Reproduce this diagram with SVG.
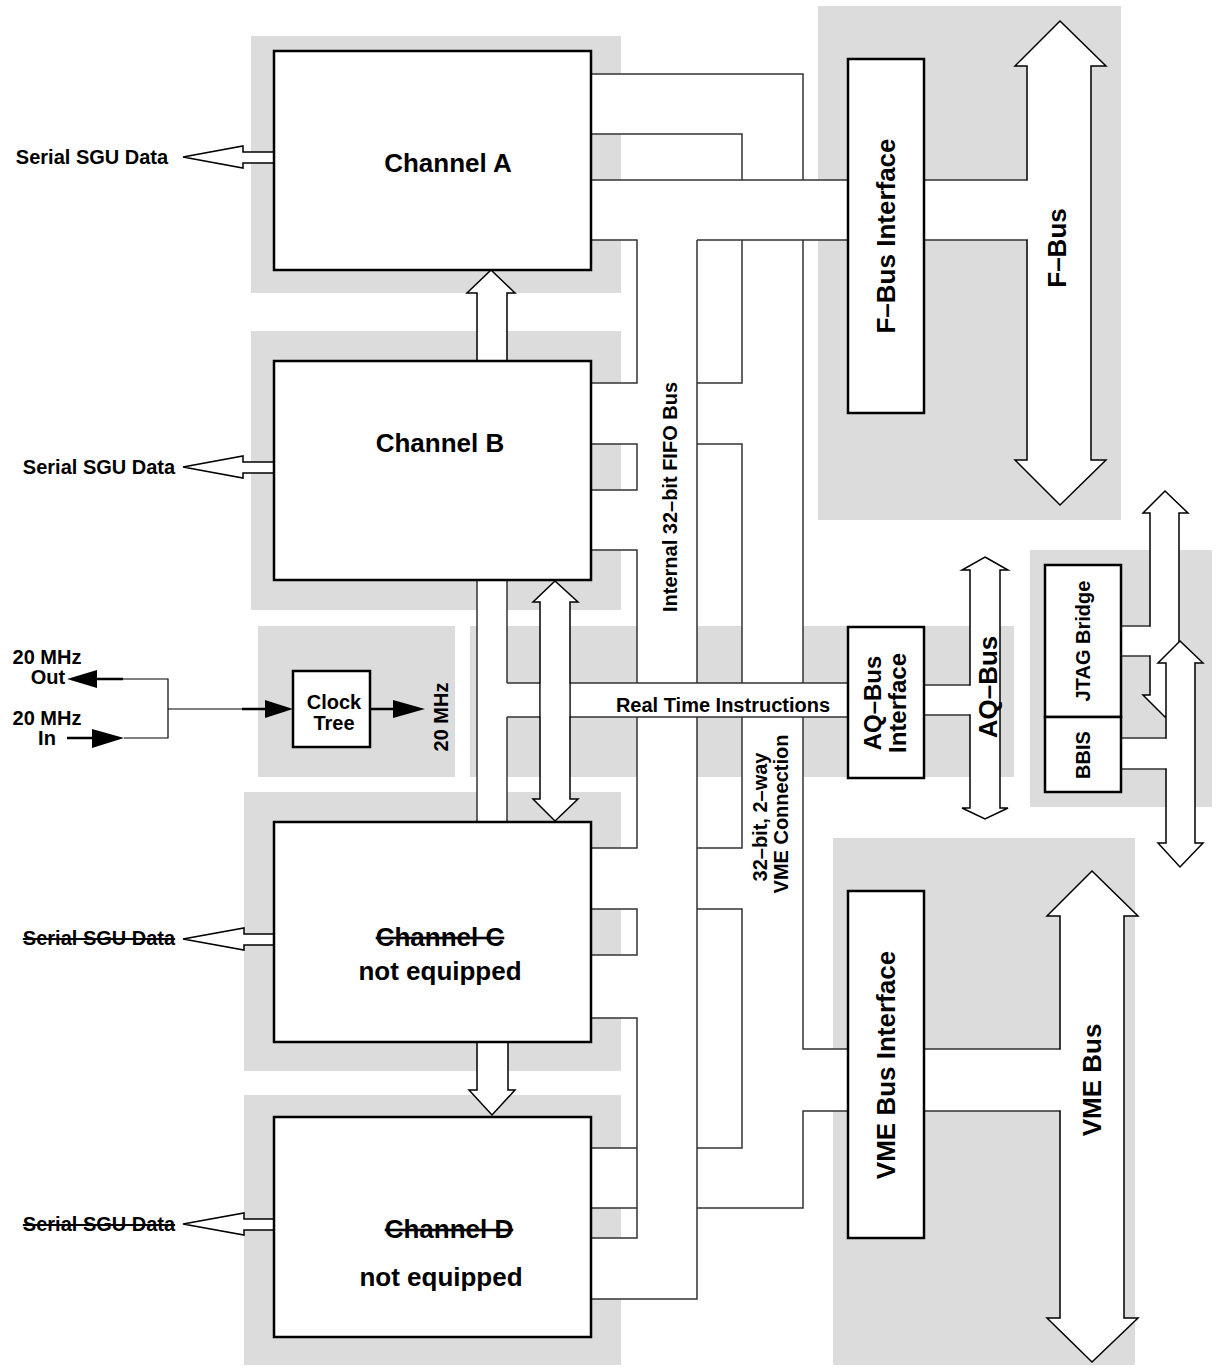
<svg xmlns="http://www.w3.org/2000/svg" width="1219" height="1369" viewBox="0 0 1219 1369">
<style>
.bg{fill:#dcdcdc}
.pf{fill:#fff}
.w{fill:none;stroke:#333;stroke-width:1.5}
.box{fill:#fff;stroke:#000;stroke-width:2.5}
.ar{fill:#fff;stroke:#000;stroke-width:1.5}
.er{fill:#fff}
.fa{fill:#000}
.tk{stroke:#000;stroke-width:2.5;fill:none}
.tn{stroke:#000;stroke-width:1.2;fill:none}
text{font-family:"Liberation Sans",Arial,Helvetica,sans-serif;font-weight:bold;fill:#000}
.s{font-size:20px}
.m{font-size:24px}
.ml{font-size:26px}
.l{font-size:26px}
.st{text-decoration:line-through}
</style>
<g id="backgrounds">
<rect class="bg" x="251" y="36" width="370" height="257"/>
<rect class="bg" x="251" y="331" width="370" height="279"/>
<rect class="bg" x="258" y="626" width="197" height="151"/>
<rect class="bg" x="470" y="626" width="544" height="151"/>
<rect class="bg" x="244" y="792" width="377" height="279"/>
<rect class="bg" x="244" y="1095" width="377" height="270"/>
<rect class="bg" x="818" y="6" width="303" height="514"/>
<rect class="bg" x="1030" y="550" width="182" height="257"/>
<rect class="bg" x="833" y="838" width="302" height="527"/>
</g>
<g id="connectors">
<g id="pipe-fills">
<rect class="pf" x="591" y="74" width="212" height="60"/>
<rect class="pf" x="742" y="74" width="61" height="1134"/>
<rect class="pf" x="591" y="180" width="257" height="60"/>
<rect class="pf" x="637" y="240" width="60" height="1059"/>
<rect class="pf" x="591" y="383" width="46" height="61"/>
<rect class="pf" x="697" y="383" width="45" height="61"/>
<rect class="pf" x="591" y="490" width="46" height="60"/>
<rect class="pf" x="591" y="848" width="46" height="61"/>
<rect class="pf" x="697" y="848" width="45" height="61"/>
<rect class="pf" x="591" y="955" width="46" height="63"/>
<rect class="pf" x="591" y="1148" width="46" height="60"/>
<rect class="pf" x="697" y="1148" width="45" height="60"/>
<rect class="pf" x="591" y="1238" width="46" height="61"/>
<rect class="pf" x="803" y="1049" width="45" height="62"/>
<rect class="pf" x="507" y="683" width="341" height="34"/>
<rect class="pf" x="477" y="580" width="30" height="242"/>
<rect class="pf" x="924" y="180" width="103" height="60"/>
<rect class="pf" x="924" y="685" width="46" height="30"/>
<rect class="pf" x="924" y="1049" width="136" height="62"/>
<rect class="pf" x="1121" y="626" width="29" height="30"/>
<rect class="pf" x="1121" y="738" width="45" height="31"/>
</g>
<path class="w" d="M591 74H803V180 M591 134H742V180 M591 180H848 M591 240H637V383H591 M697 240H848 M697 240V683 M697 717V1299H591 M742 240V383H697 M697 444H742V683 M742 717V848H697 M697 909H742V1148H697 M803 240V683 M803 717V1049H848 M848 1111H803V1208H697 M591 444H637V490H591 M591 550H637V683 M637 717V848H591 M591 909H637V955H591 M591 1018H637V1238H591 M591 1148H637 M591 1208H637 M507 683H540 M570 683H848 M507 717H540 M570 717H848 M477 580V822 M507 580V683 M507 717V822 M924 180H1027 M924 240H1027 M924 685H970 M924 715H970 M924 1049H1060 M924 1111H1060 M1121 626H1150 M1121 656H1150 M1121 738H1166 M1121 769H1166"/>
<polygon class="ar" points="555,581 578,602 570,602 570,799 578,799 555,821 533,799 540,799 540,602 533,602"/>
<rect class="er" x="540.8" y="683.8" width="28.4" height="32.4"/>
<polygon class="ar" points="491,270 515,293 507,293 507,361 477,361 477,293 467,293"/>
<polygon class="ar" points="477,1042 508,1042 508,1090 515,1090 492,1115 469,1090 477,1090"/>
<polygon class="ar" points="1060,21 1106,66 1091,66 1091,460 1106,460 1060,505 1015,460 1027,460 1027,66 1015,66"/>
<rect class="er" x="1026" y="180.8" width="2.5" height="58.4"/>
<polygon class="ar" points="985,557 1008,570 1000,570 1000,808 1008,808 985,819 962,808 970,808 970,570 962,570"/>
<rect class="er" x="969" y="685.8" width="2.5" height="28.4"/>
<polygon class="ar" points="1092,871 1138,916 1124,916 1124,1318 1138,1318 1092,1362 1047,1318 1060,1318 1060,916 1047,916"/>
<rect class="er" x="1059" y="1049.8" width="2.5" height="60.4"/>
<polygon class="ar" points="1165,491 1188,513 1179,513 1179,695 1188,695 1165,717 1143,695 1150,695 1150,513 1143,513"/>
<rect class="er" x="1149" y="626.8" width="2.5" height="28.4"/>
<polygon class="ar" points="1180,641 1203,663 1195,663 1195,843 1203,843 1180,867 1158,843 1166,843 1166,663 1158,663"/>
<rect class="er" x="1165" y="738.8" width="2.5" height="29.4"/>
<polygon class="ar" points="183,157 243,146 243,152 274,152 274,163 243,163 243,168"/>
<polygon class="ar" points="183,467 243,456 243,462 274,462 274,473 243,473 243,478"/>
<polygon class="ar" points="183,939 244,928 244,934 274,934 274,945 244,945 244,950"/>
<polygon class="ar" points="183,1224 244,1213 244,1219 274,1219 274,1230 244,1230 244,1235"/>
<g id="clock-wires">
<path class="tk" d="M97 679H123 M67 738H92 M242 709H265 M370 709H393"/>
<path class="tn" d="M123 679H168V738H124 M168 709H242"/>
<polygon class="fa" points="67,679 97,670 97,688"/>
<polygon class="fa" points="124,738 92,729 92,748"/>
<polygon class="fa" points="293,709 265,700 265,718"/>
<polygon class="fa" points="425,709 393,700 393,718"/>
</g>
</g>
<g id="channel-a">
<rect class="box" x="274" y="51" width="317" height="219"/>
<text class="l" x="448" y="172" text-anchor="middle">Channel A</text>
</g>
<g id="channel-b">
<rect class="box" x="274" y="361" width="317" height="219"/>
<text class="l" x="440" y="452" text-anchor="middle">Channel B</text>
</g>
<g id="channel-c">
<rect class="box" x="274" y="822" width="317" height="220"/>
<text class="l st" x="440" y="946" text-anchor="middle">Channel C</text>
<text class="l" x="440" y="980" text-anchor="middle">not equipped</text>
</g>
<g id="channel-d">
<rect class="box" x="274" y="1117" width="317" height="220"/>
<text class="l st" x="449" y="1238" text-anchor="middle">Channel D</text>
<text class="l" x="441" y="1286" text-anchor="middle">not equipped</text>
</g>
<g id="clock-tree">
<rect class="box" x="293" y="671" width="77" height="76"/>
<text class="s" x="334" y="709" text-anchor="middle">Clock</text>
<text class="s" x="334" y="730" text-anchor="middle">Tree</text>
</g>
<g id="fbus-interface">
<rect class="box" x="848" y="59" width="76" height="354"/>
<text class="ml" transform="translate(886,236) rotate(-90)" y="9" text-anchor="middle">F–Bus Interface</text>
</g>
<g id="aqbus-interface">
<rect class="box" x="848" y="627" width="76" height="151"/>
<text class="m" transform="translate(872,703) rotate(-90)" y="8.5" text-anchor="middle">AQ–Bus</text>
<text class="m" transform="translate(897,703) rotate(-90)" y="8.5" text-anchor="middle">Interface</text>
</g>
<g id="vme-interface">
<rect class="box" x="848" y="891" width="76" height="347"/>
<text class="ml" transform="translate(886,1065) rotate(-90)" y="9" text-anchor="middle">VME Bus Interface</text>
</g>
<g id="jtag-bridge">
<rect class="box" x="1045" y="565" width="76" height="152"/>
<text class="s" transform="translate(1083,641) rotate(-90)" y="7" text-anchor="middle">JTAG Bridge</text>
</g>
<g id="bbis">
<rect class="box" x="1045" y="717" width="76" height="75"/>
<text class="s" transform="translate(1083,755) rotate(-90)" y="7" text-anchor="middle">BBIS</text>
</g>
<g id="labels">
<text class="s" x="92" y="164" text-anchor="middle">Serial SGU Data</text>
<text class="s" x="99" y="474" text-anchor="middle">Serial SGU Data</text>
<text class="s st" x="99" y="945" text-anchor="middle">Serial SGU Data</text>
<text class="s st" x="99" y="1231" text-anchor="middle">Serial SGU Data</text>
<text class="s" x="47" y="664" text-anchor="middle">20 MHz</text>
<text class="s" x="48" y="684" text-anchor="middle">Out</text>
<text class="s" x="47" y="725" text-anchor="middle">20 MHz</text>
<text class="s" x="47" y="745" text-anchor="middle">In</text>
<text class="s" transform="translate(441,717) rotate(-90)" y="7" text-anchor="middle">20 MHz</text>
<text class="s" x="723" y="712" text-anchor="middle">Real Time Instructions</text>
<text class="s" transform="translate(670,497) rotate(-90)" y="7" text-anchor="middle">Internal 32–bit FIFO Bus</text>
<text class="s" transform="translate(760,817) rotate(-90)" y="7" text-anchor="middle">32–bit, 2–way</text>
<text class="s" transform="translate(781,814) rotate(-90)" y="7" text-anchor="middle">VME Connection</text>
<text class="l" transform="translate(1057,248) rotate(-90)" y="9" text-anchor="middle">F–Bus</text>
<text class="l" transform="translate(988,687) rotate(-90)" y="9" text-anchor="middle">AQ–Bus</text>
<text class="l" transform="translate(1092,1080) rotate(-90)" y="9" text-anchor="middle">VME Bus</text>
</g>
</svg>
